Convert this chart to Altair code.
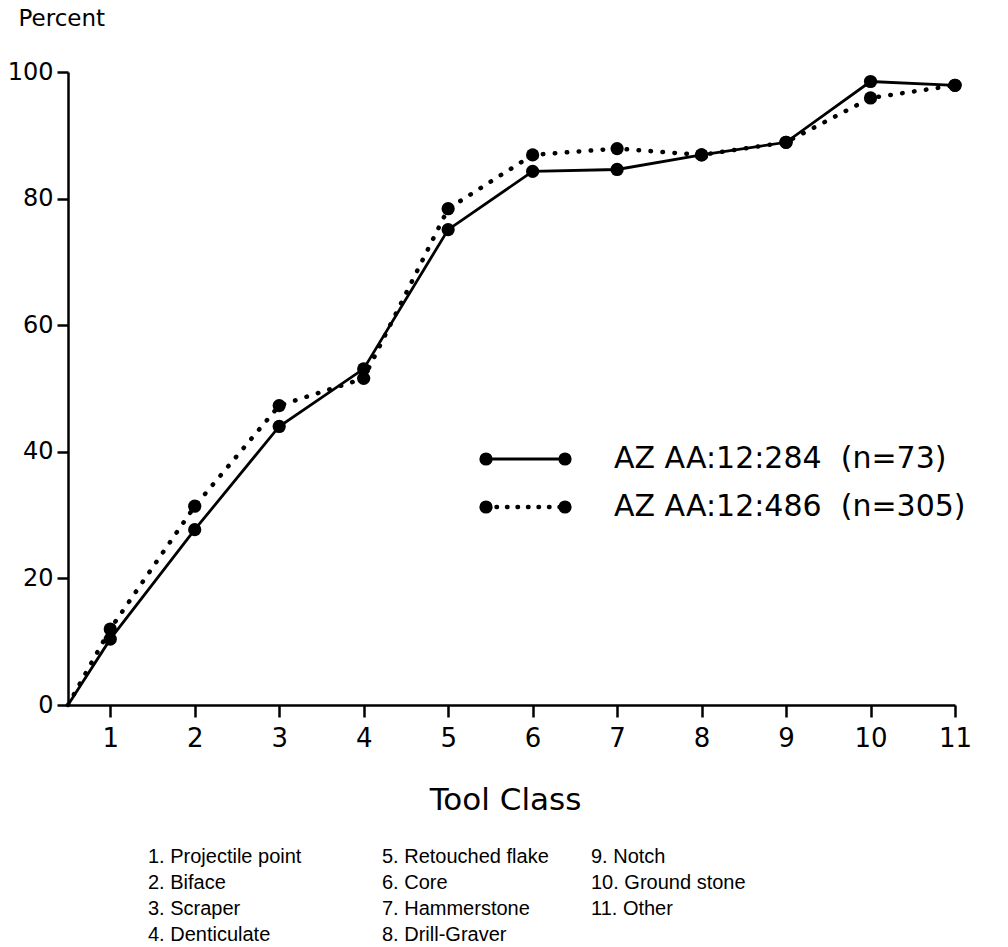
import altair as alt
import pandas as pd

# ---- data ----
tool_class = [1, 2, 3, 4, 5, 6, 7, 8, 9, 10, 11]
site_284 = [10.4, 27.7, 44.0, 53.1, 75.1, 84.3, 84.6, 86.9, 88.9, 98.5, 97.9]
site_486 = [12.0, 31.4, 47.3, 51.6, 78.4, 86.9, 87.9, 86.9, 88.9, 95.9, 97.9]
origin_x = [0.5]
origin_y = [0]
series_names = ["AZ AA:12:284\u00a0\u00a0(n=73)", "AZ AA:12:486\u00a0\u00a0(n=305)"]
footnote_col1 = ["1. Projectile point", "2. Biface", "3. Scraper", "4. Denticulate"]
footnote_col2 = ["5. Retouched flake", "6. Core", "7. Hammerstone", "8. Drill-Graver"]
footnote_col3 = ["9. Notch", "10. Ground stone", "11. Other"]
y_ticks = [0, 20, 40, 60, 80, 100]

FONT = "DejaVu Sans"
NOTE_FONT = "Liberation Sans"

def line_frame(values):
    return pd.DataFrame({"tool": origin_x + tool_class, "pct": origin_y + values})

def point_frame(values):
    return pd.DataFrame({"tool": tool_class, "pct": values})

x_enc = alt.X(
    "tool:Q",
    scale=alt.Scale(domain=[0.5, 11], nice=False, zero=False),
    axis=alt.Axis(
        values=tool_class, format="d", tickSize=12, tickWidth=2.5, domainWidth=2.5,
        labelPadding=8, labelFontSize=26, labelFont=FONT, labelColor="black",
        domainColor="black", tickColor="black", grid=False, labelFlush=False,
        title="Tool Class", titleFont=FONT, titleFontSize=31, titleFontWeight="normal",
        titleColor="black", titleX=437, titleY=95, titleAlign="center", titleBaseline="middle",
    ),
)
y_enc = alt.Y(
    "pct:Q",
    scale=alt.Scale(domain=[0, 100], nice=False),
    axis=alt.Axis(
        values=y_ticks, tickSize=11, tickWidth=2.5, domainWidth=2.5, labelPadding=4,
        labelFontSize=24, labelFont=FONT, labelColor="black", domainColor="black",
        tickColor="black", grid=False, labelFlush=False,
        title="Percent", titleFont=FONT, titleFontSize=23, titleFontWeight="normal",
        titleColor="black", titleAngle=0, titleX=-50, titleY=-54, titleAlign="left",
        titleBaseline="middle",
    ),
)

MSIZE = 175
solid_line = alt.Chart(line_frame(site_284)).mark_line(color="black", strokeWidth=2.8).encode(x=x_enc, y=y_enc)
dotted_line = alt.Chart(line_frame(site_486)).mark_line(
    color="black", strokeWidth=4.5, strokeDash=[0.5, 11.5], strokeCap="round"
).encode(x="tool:Q", y="pct:Q")
pts_284 = alt.Chart(point_frame(site_284)).mark_point(filled=True, color="black", size=MSIZE, opacity=1).encode(x="tool:Q", y="pct:Q")
pts_486 = alt.Chart(point_frame(site_486)).mark_point(filled=True, color="black", size=MSIZE, opacity=1).encode(x="tool:Q", y="pct:Q")

# ---- manual legend ----
one = pd.DataFrame({"k": [0]})
LX0, LX1, LTX = 418, 497, 546
LY = [387, 435]
legend_layers = []
for i, name in enumerate(series_names):
    y = LY[i]
    if i == 0:
        rule = alt.Chart(one).mark_rule(color="black", strokeWidth=2.8)
    else:
        rule = alt.Chart(one).mark_rule(color="black", strokeWidth=4.5, strokeDash=[0.5, 10], strokeCap="round")
    legend_layers.append(rule.encode(x=alt.value(LX0), x2=alt.value(LX1), y=alt.value(y)))
    for xx in (LX0, LX1):
        legend_layers.append(
            alt.Chart(one).mark_point(filled=True, color="black", size=MSIZE, opacity=1)
            .encode(x=alt.value(xx), y=alt.value(y))
        )
    legend_layers.append(
        alt.Chart(one).mark_text(font=FONT, fontSize=30, align="left", baseline="middle", color="black")
        .encode(x=alt.value(LTX), y=alt.value(y), text=alt.value(name))
    )

# ---- footnote (tool class key) ----
note_layers = []
for col, xx in zip([footnote_col1, footnote_col2, footnote_col3], [80, 314, 523]):
    note_layers.append(
        alt.Chart(one).mark_text(
            font=NOTE_FONT, fontSize=20, align="left", baseline="alphabetic",
            color="black", lineBreak="\n", lineHeight=26,
        ).encode(x=alt.value(xx), y=alt.value(791), text=alt.value("\n".join(col)))
    )

chart = alt.layer(
    solid_line, dotted_line, pts_284, pts_486, *legend_layers, *note_layers
).properties(
    width=887, height=633,
    padding={"left": 68, "top": 72, "right": 53, "bottom": 242},
    autosize=alt.AutoSizeParams(type="none"),
    background="white",
).configure_view(stroke=None)

chart.save("out.html", embed_options={"renderer": "svg", "actions": False})
